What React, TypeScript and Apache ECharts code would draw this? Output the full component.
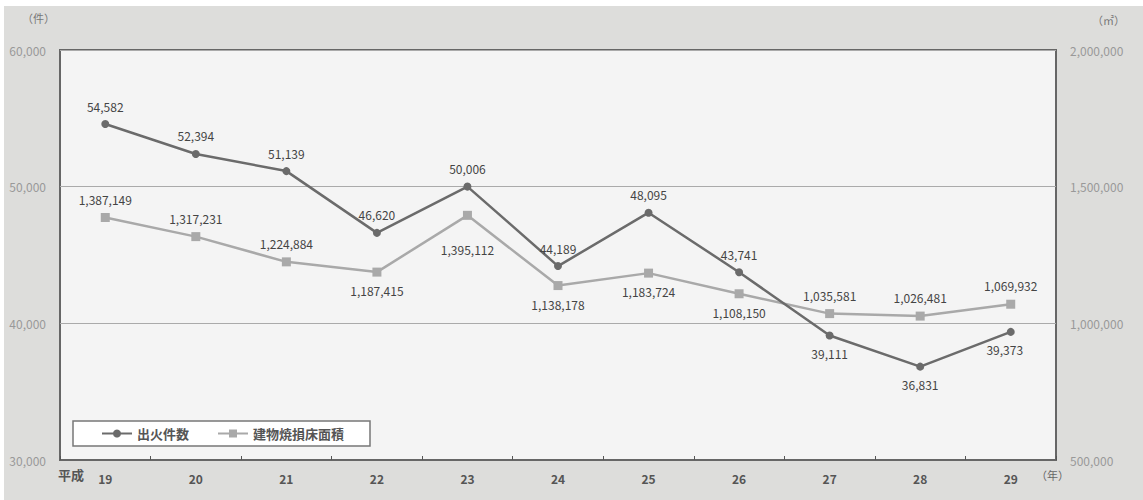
import React, { useEffect, useRef } from "react";
import * as echarts from "echarts";

const categories = ["19", "20", "21", "22", "23", "24", "25", "26", "27", "28", "29"];
const fireCounts = [54582, 52394, 51139, 46620, 50006, 44189, 48095, 43741, 39111, 36831, 39373];
const burnedArea = [1387149, 1317231, 1224884, 1187415, 1395112, 1138178, 1183724, 1108150, 1035581, 1026481, 1069932];
const fireLabelPos = ["top", "top", "top", "top", "top", "top", "top", "top", "bottom", "bottom", "bottom"];
const areaLabelPos = ["top", "top", "top", "bottom", "bottom", "bottom", "bottom", "bottom", "top", "top", "top"];

const FONT = "'Noto Sans CJK JP', 'Noto Sans', sans-serif";
const fmt = (v: number) => v.toLocaleString("en-US");

export default function App() {
  const ref = useRef<HTMLDivElement>(null);
  useEffect(() => {
    document.body.style.margin = "0";
    const chart = echarts.init(ref.current!, null, { renderer: "svg" });
    chart.setOption({
      animation: false,
      backgroundColor: "#ffffff",
      textStyle: { fontFamily: FONT },
      graphic: [
        { type: "rect", z: -10, shape: { x: 4, y: 6, width: 1139, height: 494 }, style: { fill: "#dddddb" } },
        { type: "text", left: 22, top: 12, style: { text: "（件）", fill: "#777", font: `11px ${FONT}` } },
        { type: "text", left: 1092, top: 14, style: { text: "（㎡）", fill: "#777", font: `11px ${FONT}` } },
        { type: "text", left: 58, top: 468, style: { text: "平成", fill: "#555", font: `bold 13px ${FONT}` } },
        { type: "text", left: 1036, top: 469, style: { text: "（年）", fill: "#666", font: `11px ${FONT}` } },
      ],
      grid: {
        left: 60, right: 87, top: 50, bottom: 40,
        show: true, backgroundColor: "#f4f4f4", borderColor: "#666", borderWidth: 2,
      },
      legend: {
        left: 73, top: 421,
        backgroundColor: "#ffffff", borderColor: "#777", borderWidth: 1.5,
        padding: [6, 26, 6, 28], itemGap: 28, itemWidth: 30, itemHeight: 10,
        textStyle: { fontSize: 13, fontWeight: "bold", color: "#555", fontFamily: FONT },
        data: ["出火件数", "建物焼損床面積"],
      },
      xAxis: {
        type: "category", data: categories, boundaryGap: true,
        axisLine: { show: true, lineStyle: { color: "#666", width: 2 } },
        axisTick: { show: true, inside: true, length: 4, lineStyle: { color: "#555" } },
        axisLabel: { color: "#555", fontSize: 12, fontWeight: "bold", margin: 12, fontFamily: FONT },
      },
      yAxis: [
        {
          type: "value", min: 30000, max: 60000, interval: 10000,
          axisLine: { show: false }, axisTick: { show: false },
          axisLabel: { color: "#999", fontSize: 12, margin: 14, formatter: (v: number) => fmt(v) },
          splitLine: { show: true, lineStyle: { color: "#aaa", width: 1 } },
        },
        {
          type: "value", min: 500000, max: 2000000, interval: 500000,
          axisLine: { show: false }, axisTick: { show: false },
          axisLabel: { color: "#999", fontSize: 12, margin: 14, formatter: (v: number) => fmt(v) },
          splitLine: { show: false },
        },
      ],
      series: [
        {
          name: "出火件数", type: "line", yAxisIndex: 0,
          data: fireCounts.map((v, i) => ({
            value: v,
            label: { position: fireLabelPos[i], offset: i === 10 ? [-6, 0] : [0, 0] },
          })),
          symbol: "circle", symbolSize: 8,
          itemStyle: { color: "#6b6b6b" }, lineStyle: { color: "#6b6b6b", width: 2.5 },
          label: { show: true, color: "#444", fontSize: 12, distance: 8, formatter: (p: any) => fmt(p.value) },
          z: 3,
        },
        {
          name: "建物焼損床面積", type: "line", yAxisIndex: 1,
          data: burnedArea.map((v, i) => ({
            value: v,
            label: { position: areaLabelPos[i], distance: i === 4 ? 24 : 8 },
          })),
          symbol: "rect", symbolSize: 9,
          itemStyle: { color: "#a9a9a9" }, lineStyle: { color: "#a9a9a9", width: 2.5 },
          label: { show: true, color: "#444", fontSize: 12, distance: 8, formatter: (p: any) => fmt(p.value) },
          z: 2,
        },
      ],
    });
    return () => chart.dispose();
  }, []);
  return <div ref={ref} style={{ position: "absolute", left: 0, top: 0, width: 1143, height: 500 }} />;
}
